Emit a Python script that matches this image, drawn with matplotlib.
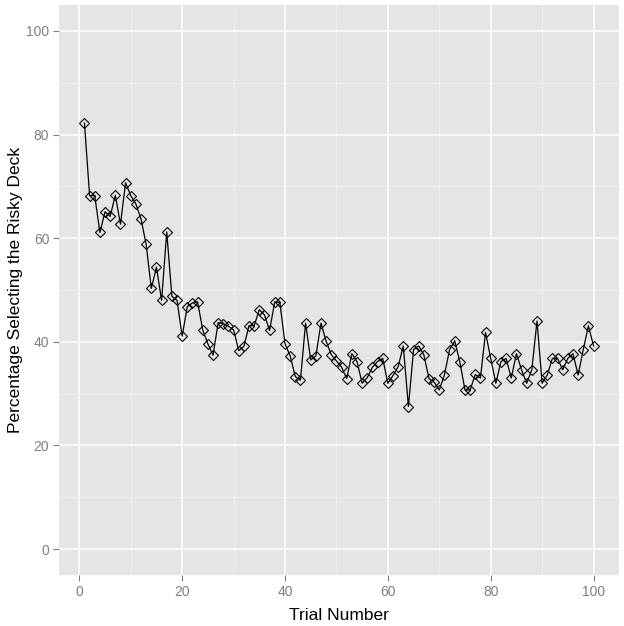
import matplotlib
matplotlib.use("Agg")
import matplotlib.pyplot as plt
from matplotlib.ticker import MultipleLocator

# %% Data
trial = list(range(1, 101))
pct_risky = [
    82.2, 68.2, 68.2, 61.1, 65.1, 64.2, 68.3, 62.7, 70.7, 68.2,
    66.6, 63.7, 58.8, 50.3, 54.4, 48.0, 61.2, 48.8, 48.0, 41.1,
    46.8, 47.5, 47.7, 42.3, 39.6, 37.4, 43.7, 43.5, 43.0, 42.3,
    38.3, 39.1, 43.1, 43.1, 46.2, 45.2, 42.2, 47.7, 47.6, 39.6,
    37.3, 33.3, 32.6, 43.6, 36.5, 37.3, 43.6, 40.1, 37.5, 36.3,
    35.1, 32.9, 37.7, 36.2, 32.0, 33.1, 35.1, 36.2, 36.8, 32.0,
    33.5, 35.2, 39.2, 27.5, 38.5, 39.2, 37.5, 32.9, 32.2, 30.7,
    33.6, 38.5, 40.2, 36.1, 30.7, 30.7, 33.7, 33.0, 41.8, 36.8,
    32.0, 36.2, 36.8, 33.0, 37.7, 34.6, 32.0, 34.6, 44.0, 32.0,
    33.6, 36.8, 36.8, 34.6, 36.8, 37.7, 33.6, 38.5, 43.1, 39.2,
]

# %% Plot in old ggplot2 grey style
plt.rcParams['font.family'] = ['Liberation Sans', 'DejaVu Sans']

fig = plt.figure(figsize=(6.24, 6.26), dpi=100)
ax = fig.add_axes([59 / 624, 51 / 626, 560 / 624, 570 / 626])
ax.set_facecolor('#E5E5E5')

ax.plot(trial, pct_risky, color='black', lw=0.9, zorder=3)
ax.plot(trial, pct_risky, linestyle='none', marker='D', ms=4.8,
        markerfacecolor='none', markeredgecolor='black', mew=0.8, zorder=4)

ax.set_xlim(-3.95, 104.95)
ax.set_ylim(-5, 105)
ax.xaxis.set_major_locator(MultipleLocator(20))
ax.yaxis.set_major_locator(MultipleLocator(20))
ax.xaxis.set_minor_locator(MultipleLocator(10))
ax.yaxis.set_minor_locator(MultipleLocator(10))

ax.grid(which='major', color='white', lw=1.1, zorder=1)
ax.grid(which='minor', color='#F2F2F2', lw=0.5, zorder=1)
ax.set_axisbelow(True)

for s in ax.spines.values():
    s.set_visible(False)

ax.tick_params(which='major', direction='out', length=4, width=0.8,
               color='#7F7F7F', labelcolor='#7F7F7F', labelsize=10, pad=3)
ax.tick_params(which='minor', length=0)

ax.set_xlabel('Trial Number', fontsize=12.5, labelpad=7)
ax.set_ylabel('Percentage Selecting the Risky Deck', fontsize=12.5, labelpad=2)

fig.savefig('out.png', dpi=100)
